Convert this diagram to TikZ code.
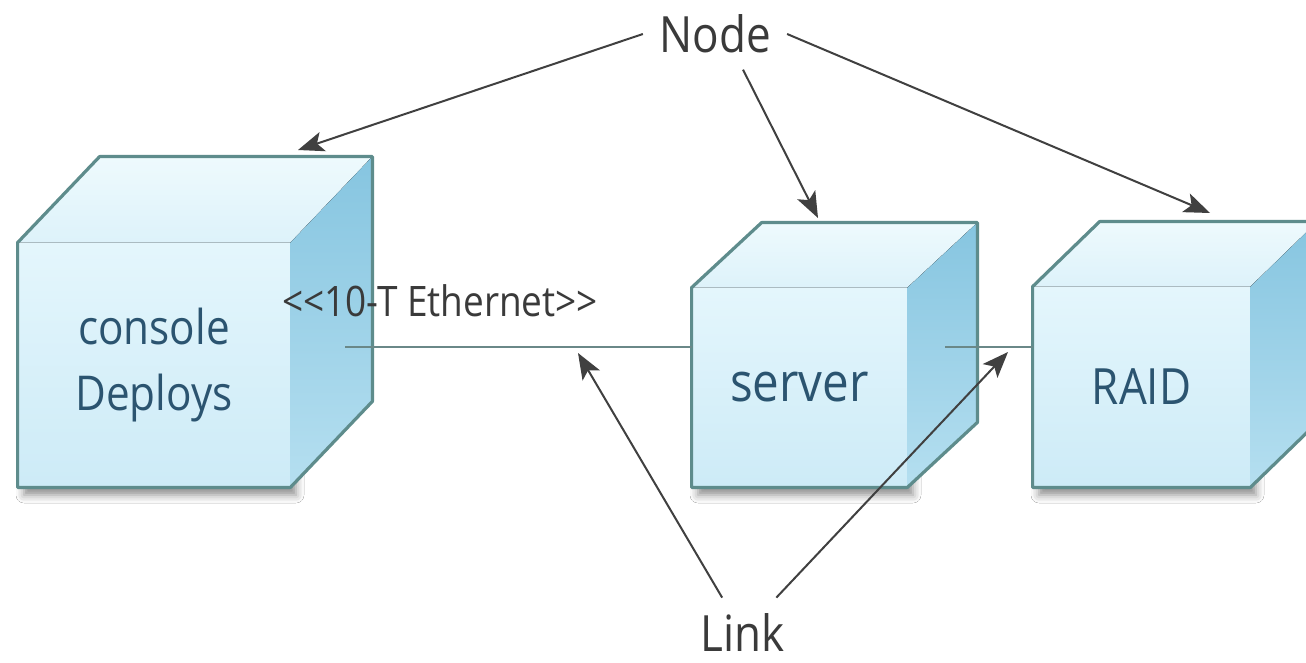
\documentclass[tikz,border=0pt]{standalone}
\usepackage{fontspec}
\setmainfont{Open Sans}[FakeStretch=0.88]
\usetikzlibrary{arrows.meta,shadows.blur,calc}
\definecolor{edgec}{HTML}{5E8C8C}
\definecolor{frontc}{HTML}{CDEBF7}
\definecolor{frontl}{HTML}{E4F6FC}
\definecolor{topc}{HTML}{EEFAFD}
\definecolor{topd}{HTML}{DDF2FA}
\definecolor{sidec}{HTML}{86C5E0}
\definecolor{sidel}{HTML}{B5DFF0}
\definecolor{cubetext}{HTML}{2B5470}
\definecolor{linkc}{HTML}{6A8888}
\definecolor{arrc}{HTML}{404040}
\definecolor{lblc}{HTML}{3A3A3A}
\newcommand\drawcube[3]{%
  \fill[top color=topc,bottom color=topd] (#1.north west) -- ++(#2,-#3) -- ($(#1.north east)+(#2,-#3)$) -- (#1.north east) -- cycle;
  \fill[top color=sidec,bottom color=sidel] (#1.north east) -- ++(#2,-#3) -- ($(#1.south east)+(#2,-#3)$) -- (#1.south east) -- cycle;
  \draw[cubeedge] (#1.south west) -- (#1.north west) -- ++(#2,-#3) -- ($(#1.north east)+(#2,-#3)$) -- ($(#1.south east)+(#2,-#3)$) -- (#1.south east) -- cycle;}
\begin{document}
\begin{tikzpicture}[x=0.5pt,y=-0.5pt,
  frontface/.style={inner sep=0pt, align=center, text=cubetext,
    top color=frontl, bottom color=frontc,
    blur shadow={shadow xshift=3pt, shadow yshift=-4pt, shadow blur radius=4pt, shadow opacity=45}},
  cubeedge/.style={draw=edgec, line width=1.6pt, line join=round},
  linkline/.style={draw=linkc, line width=1.3pt},
  arr/.style={draw=arrc, line width=1pt, -{Stealth[length=13pt,width=10pt,inset=3pt]}},
  lbl/.style={text=lblc, inner sep=8pt}]
\clip (0,0) rectangle (1306,663);
\fill[white] (0,0) rectangle (1306,663);
% cubes
\node[frontface, minimum width=136pt, minimum height=122pt, font=\fontsize{24}{33}\selectfont] (console) at (154,365) {console\\Deploys};
\drawcube{console}{82}{86}
\node[frontface, minimum width=107.5pt, minimum height=99.5pt, font=\fontsize{27}{32}\selectfont] (server) at (799.5,387.5) {server};
\drawcube{server}{70}{65}
\node[frontface, minimum width=108.5pt, minimum height=100pt, font=\fontsize{25}{30}\selectfont] (raid) at (1141.5,387) {RAID};
\drawcube{raid}{67}{65}
% links
\coordinate (e1) at (345,347);
\coordinate (e2) at (945,347);
\draw[linkline] (e1) -- (server.west |- e1);
\draw[linkline] (e2) -- (raid.west |- e2);
\node[text=lblc, inner sep=0pt, font=\fontsize{21}{25}\selectfont] (eth) at (440,301) {<{}<10-T Ethernet>{}>};
% labels
\node[lbl, font=\fontsize{25}{30}\selectfont] (nodetxt) at (715,34) {Node};
\node[lbl, font=\fontsize{25}{30}\selectfont] (linktxt) at (743,633) {Link};
% arrows
\coordinate (t1) at (298,150);
\coordinate (t2) at (818,218);
\coordinate (t3) at (1210,213);
\coordinate (t4) at (578,353);
\coordinate (t5) at (1008,352);
\draw[arr] (nodetxt.west) -- (t1);
\draw[arr] ([xshift=14pt]nodetxt.south) -- (t2);
\draw[arr] (nodetxt.east) -- (t3);
\draw[arr] (linktxt) -- (t4);
\draw[arr] (linktxt) -- (t5);
\end{tikzpicture}
\end{document}
